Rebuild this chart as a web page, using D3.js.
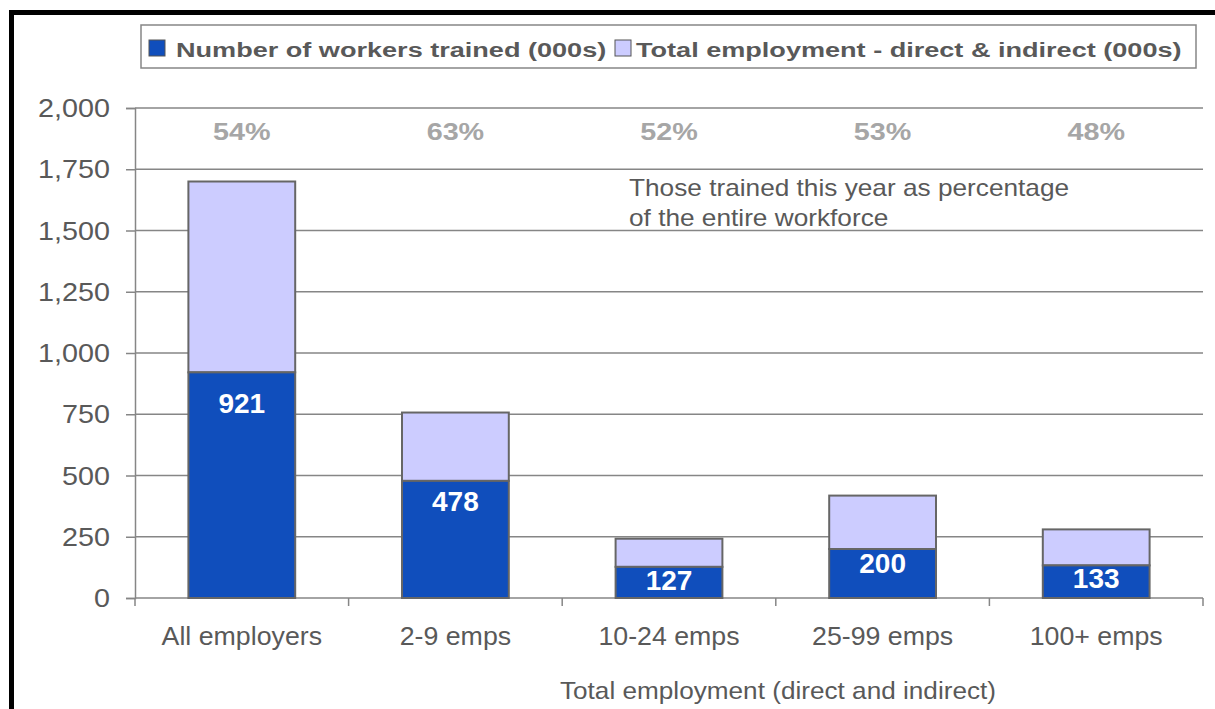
<!DOCTYPE html>
<html>
<head>
<meta charset="utf-8">
<script src="https://cdn.jsdelivr.net/npm/d3@7"></script>
<style>
  body { margin: 0; background: #fff; }
  svg { display: block; }
  text { font-family: "Liberation Sans", Arial, sans-serif; }
</style>
</head>
<body>
<script>
// chart values
const categories = ["All employers", "2-9 emps", "10-24 emps", "25-99 emps", "100+ emps"];
const trained = [921, 478, 127, 200, 133];
const totalEmployment = [1700, 757, 242, 418, 280];
const trainedShare = ["54%", "63%", "52%", "53%", "48%"];
const yTicks = [0, 250, 500, 750, 1000, 1250, 1500, 1750, 2000];
const seriesNames = ["Number of workers trained (000s)", "Total employment - direct & indirect (000s)"];

const w = 1215;
const h = 709;
const blue = "#104ebc";
const lilac = "#ccccff";
const textGrey = "#595959";

const svg = d3.select("body").append("svg").attr("width", w).attr("height", h);

// black frame on top and left
svg.append("rect").attr("x", 9).attr("y", 10).attr("width", w - 9).attr("height", 5).attr("fill", "#000");
svg.append("rect").attr("x", 9).attr("y", 10).attr("width", 5).attr("height", h - 10).attr("fill", "#000");

const x = d3.scaleBand()
    .domain(categories)
    .range([135, 1203])
    .paddingInner(0.5)
    .paddingOuter(0.25);

const y = d3.scaleLinear().domain([0, 2000]).range([598, 108]);

// text stretched horizontally, the source picture is wider than the font
function label(g, tx, ty, str, size, sx, anchor) {
    return g.append("text")
        .attr("transform", `translate(${tx},${ty}) scale(${sx},1)`)
        .attr("font-size", size)
        .attr("text-anchor", anchor || "start")
        .attr("fill", textGrey)
        .text(str);
}

// gridlines
svg.append("g")
    .selectAll("line")
    .data(yTicks.filter(d => d > 0))
    .enter()
    .append("line")
    .attr("x1", 135)
    .attr("x2", 1203)
    .attr("y1", d => y(d))
    .attr("y2", d => y(d))
    .attr("stroke", "#868686")
    .attr("stroke-width", 1.5);

// y axis
const yAxis = svg.append("g")
    .attr("transform", "translate(135,0)")
    .call(d3.axisLeft(y).tickValues(yTicks).tickSize(9).tickFormat(""));
yAxis.selectAll("path, line").attr("stroke", "#868686").attr("stroke-width", 1.5);

const yLabels = svg.append("g");
yTicks.forEach(t => {
    label(yLabels, 110, y(t) + 9, d3.format(",")(t), 25, 1.15, "end");
});

// x axis with ticks between categories
const xAxis = svg.append("g").attr("transform", "translate(0,598)");
xAxis.append("line").attr("x1", 135).attr("x2", 1203).attr("stroke", "#868686").attr("stroke-width", 1.5);
xAxis.selectAll("line.tick")
    .data(categories.concat([null]))
    .enter()
    .append("line")
    .attr("class", "tick")
    .attr("x1", (d, i) => 135 + i * x.step())
    .attr("x2", (d, i) => 135 + i * x.step())
    .attr("y1", 0)
    .attr("y2", 8)
    .attr("stroke", "#868686")
    .attr("stroke-width", 1.5);

const bars = svg.append("g");

// lilac part: remainder of total employment
bars.selectAll("rect.total")
    .data(categories)
    .enter()
    .append("rect")
    .attr("class", "total")
    .attr("x", d => x(d))
    .attr("width", x.bandwidth())
    .attr("y", (d, i) => y(totalEmployment[i]))
    .attr("height", (d, i) => y(trained[i]) - y(totalEmployment[i]))
    .attr("fill", lilac)
    .attr("stroke", "#666")
    .attr("stroke-width", 2);

bars.selectAll("rect.trained")
    .data(categories)
    .enter()
    .append("rect")
    .attr("class", "trained")
    .attr("x", d => x(d))
    .attr("width", x.bandwidth())
    .attr("y", (d, i) => y(trained[i]))
    .attr("height", (d, i) => y(0) - y(trained[i]))
    .attr("fill", blue)
    .attr("stroke", "#666")
    .attr("stroke-width", 2);

// values inside the blue bars
bars.selectAll("text.value")
    .data(categories)
    .enter()
    .append("text")
    .attr("class", "value")
    .attr("x", d => x(d) + x.bandwidth() / 2)
    .attr("y", (d, i) => {
        const top = y(trained[i]);
        return top + 20 + 0.09 * (y(0) - top);
    })
    .attr("text-anchor", "middle")
    .attr("font-size", 28)
    .attr("font-weight", "bold")
    .attr("fill", "#fff")
    .text((d, i) => trained[i]);

// percentages along the top
const shares = svg.append("g");
categories.forEach((c, i) => {
    label(shares, x(c) + x.bandwidth() / 2, 140, trainedShare[i], 23, 1.25, "middle")
        .attr("font-weight", "bold")
        .attr("fill", "#a6a6a6");
});

// note
const note = svg.append("g");
label(note, 629, 196, "Those trained this year as percentage", 23, 1.14);
label(note, 629, 226, "of the entire workforce", 23, 1.14);

// category labels
const cats = svg.append("g");
categories.forEach(c => {
    label(cats, x(c) + x.bandwidth() / 2, 645, c, 25, 1.07, "middle");
});

label(svg, 778, 699, "Total employment (direct and indirect)", 24, 1.09, "middle");

// legend
const legend = svg.append("g");
legend.append("rect")
    .attr("x", 141).attr("y", 25).attr("width", 1055).attr("height", 43)
    .attr("fill", "#fff").attr("stroke", "#868686").attr("stroke-width", 1.5);
const legendX = [149, 615];
const legendTextX = [176, 636];
seriesNames.forEach((name, i) => {
    legend.append("rect")
        .attr("x", legendX[i]).attr("y", 40).attr("width", 16).attr("height", 16)
        .attr("fill", i === 0 ? blue : lilac)
        .attr("stroke", "#555").attr("stroke-width", 1);
    label(legend, legendTextX[i], 57, name, 21, 1.29).attr("font-weight", "bold");
});
</script>
</body>
</html>
